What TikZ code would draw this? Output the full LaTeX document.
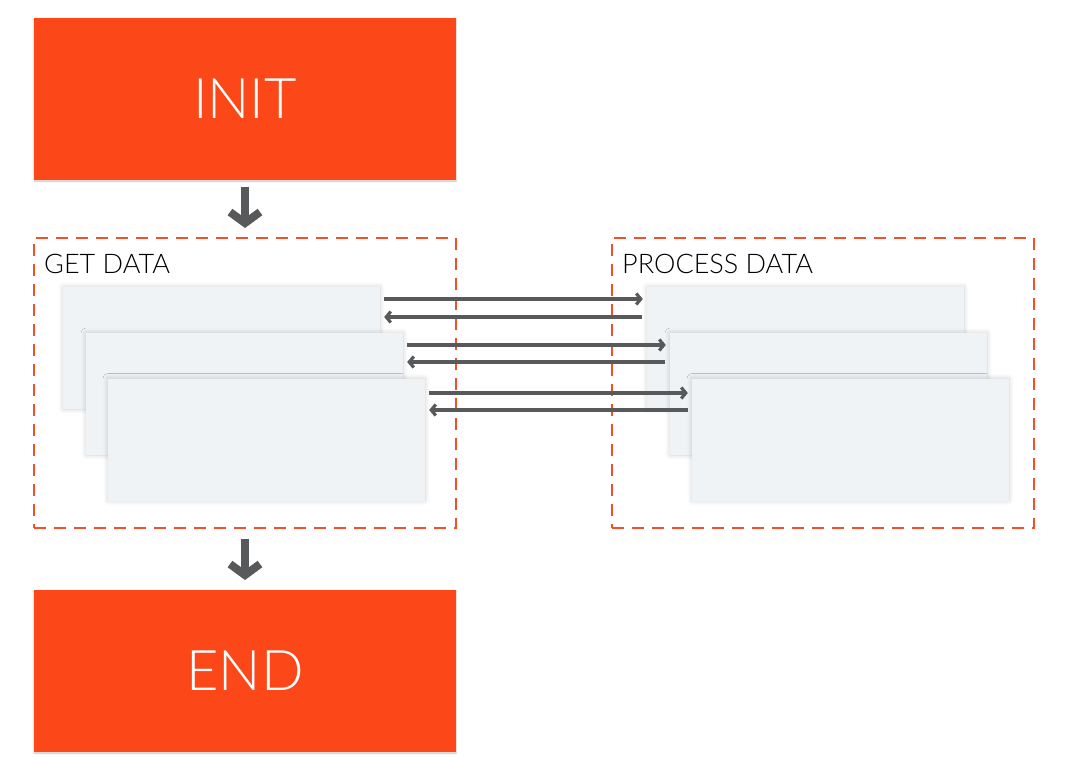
\documentclass[tikz,border=0pt]{standalone}
\usepackage{fontspec}
\setmainfont{Lato Light}
\usetikzlibrary{arrows.meta,shadows.blur}
\definecolor{orng}{HTML}{FC4718}
\definecolor{dashc}{HTML}{F2502A}
\definecolor{cardc}{HTML}{EFF3F6}
\definecolor{arrc}{HTML}{58595B}
\tikzset{
  bigbox/.style={fill=orng, draw=none, minimum width=422pt, minimum height=162pt, inner sep=0pt, text=white, font=\fontsize{56}{60}\selectfont, blur shadow={shadow xshift=0pt, shadow yshift=-1pt, shadow blur steps=4, shadow blur radius=2pt, shadow opacity=25}},
  groupbox/.style={draw=dashc, line width=1.6pt, dash pattern=on 12pt off 8pt, minimum width=422pt, minimum height=290pt, inner sep=0pt},
  card/.style={fill=cardc, draw=none, minimum width=317pt, minimum height=122pt, inner sep=0pt, blur shadow={shadow xshift=0pt, shadow yshift=0pt, shadow blur steps=8, shadow blur radius=5pt, shadow opacity=18}},
  grouplabel/.style={anchor=base west, font=\fontsize{27}{30}\selectfont, text=black, inner sep=0pt},
  bigarrow/.style={draw=arrc, line width=8pt, -{Straight Barb[length=11pt, width=30pt]}},
  msg/.style={draw=arrc, line width=3.2pt, -{Straight Barb[length=4.5pt, width=11pt]}},
}
\begin{document}
\begin{tikzpicture}[x=1pt, y=-1pt]
\useasboundingbox (0,0) rectangle (1068,770);
% boxes
\node[bigbox] (init) at (245,99) {INIT};
\node[bigbox] (end) at (245,671) {END};
\node[groupbox] (get) at (245,383) {};
\node[groupbox] (proc) at (823,383) {};
\node[grouplabel] (getl) at (44,273) {GET DATA};
\node[grouplabel] (procl) at (622,273) {PROCESS DATA};
% cards
\node[card] (g1) at (221.5,348) {};
\node[card] (g2) at (244.5,394) {};
\node[card] (g3) at (266.5,439.5) {};
\node[card] (p1) at (805.5,348) {};
\node[card] (p2) at (828.5,394) {};
\node[card] (p3) at (850.5,439.5) {};
% vertical arrows
\coordinate (a1s) at (245,187);
\coordinate (a1e) at (245,228);
\coordinate (a2s) at (245,539);
\coordinate (a2e) at (245,580);
\draw[bigarrow] (a1s) -- (a1e);
\draw[bigarrow] (a2s) -- (a2e);
% message arrows
\draw[msg] ([xshift=4pt]g1.east |- 0,299) -- ([xshift=-4pt]p1.west |- 0,299);
\draw[msg] ([xshift=-5pt]p1.west |- 0,317) -- ([xshift=4pt]g1.east |- 0,317);
\draw[msg] ([xshift=4pt]g2.east |- 0,345) -- ([xshift=-4pt]p2.west |- 0,345);
\draw[msg] ([xshift=-5pt]p2.west |- 0,362) -- ([xshift=4pt]g2.east |- 0,362);
\draw[msg] ([xshift=4pt]g3.east |- 0,393) -- ([xshift=-4pt]p3.west |- 0,393);
\draw[msg] ([xshift=-4pt]p3.west |- 0,410) -- ([xshift=4pt]g3.east |- 0,410);
\end{tikzpicture}
\end{document}
